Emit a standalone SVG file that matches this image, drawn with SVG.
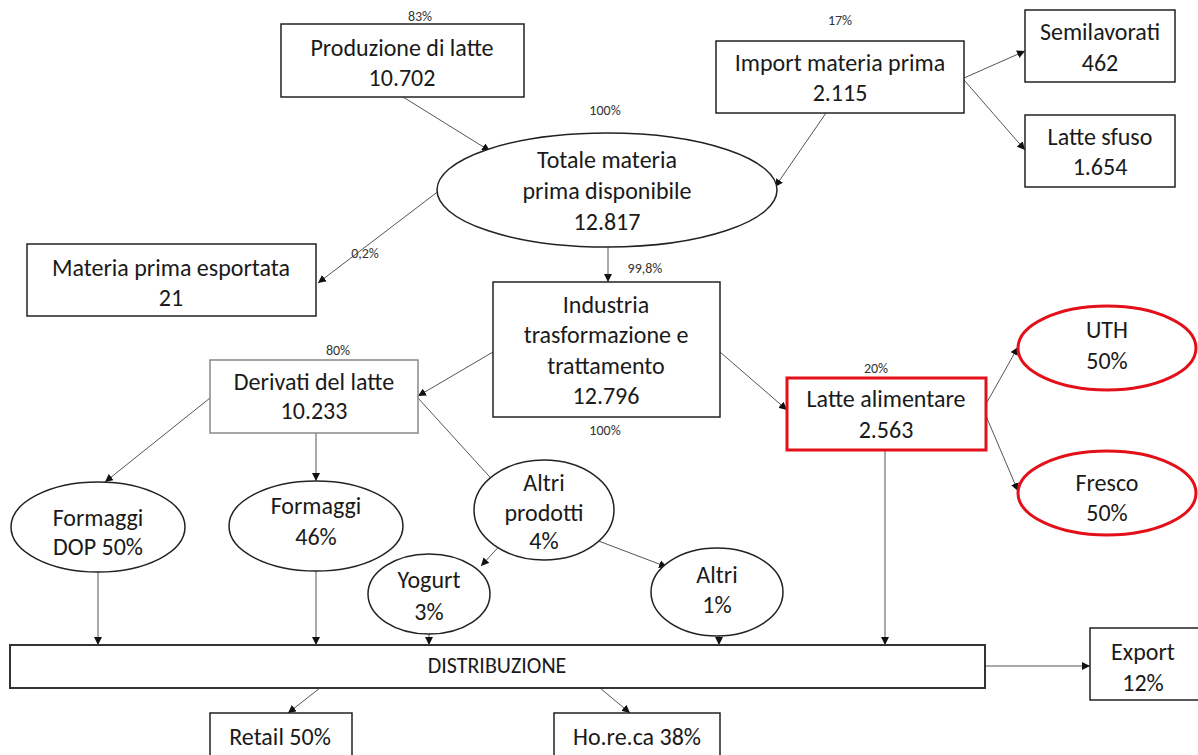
<svg xmlns="http://www.w3.org/2000/svg" width="1198" height="755" viewBox="0 0 1198 755">
<defs>
<marker id="ah" viewBox="0 0 10 10" refX="10" refY="5" markerWidth="8" markerHeight="8" markerUnits="userSpaceOnUse" orient="auto">
<path d="M0,0 L10,5 L0,10 z" fill="#111"/>
</marker>
<style>
text{font-family:Carlito,"Liberation Sans",Arial,sans-serif;fill:#1a1a1a;text-anchor:middle}
.t{font-size:24px}
.s{font-size:14px;fill:#333}
.box{fill:#fff;stroke:#222;stroke-width:1.5}
.gbox{fill:#fff;stroke:#888;stroke-width:1.5}
.red{fill:#fff;stroke:#e3101a;stroke-width:3}
.ell{fill:#fff;stroke:#222;stroke-width:1.5}
.c{fill:none;stroke:#555;stroke-width:1;marker-end:url(#ah)}
</style>
</defs>
<rect width="1198" height="755" fill="#fff"/>

<g id="connectors">
<line class="c" x1="403" y1="97" x2="490" y2="151"/>
<line class="c" x1="826" y1="113" x2="775" y2="187"/>
<line class="c" x1="964" y1="78" x2="1025" y2="51"/>
<line class="c" x1="964" y1="80" x2="1025" y2="150"/>
<line class="c" x1="440" y1="190" x2="318" y2="283"/>
<line class="c" x1="608" y1="247" x2="608" y2="282"/>
<line class="c" x1="493" y1="352" x2="418" y2="396"/>
<line class="c" x1="720" y1="352" x2="787" y2="410"/>
<line class="c" x1="986" y1="404" x2="1018" y2="347"/>
<line class="c" x1="986" y1="416" x2="1018" y2="491"/>
<line class="c" x1="210" y1="398" x2="105" y2="482"/>
<line class="c" x1="316" y1="433" x2="316" y2="481"/>
<line class="c" x1="418" y1="398" x2="498" y2="486"/>
<line class="c" x1="505" y1="540" x2="481" y2="566"/>
<line class="c" x1="596" y1="540" x2="667" y2="567"/>
<line class="c" x1="98" y1="571" x2="98" y2="645"/>
<line class="c" x1="316" y1="570" x2="316" y2="645"/>
<line class="c" x1="429" y1="634" x2="429" y2="645"/>
<line class="c" x1="719" y1="636" x2="719" y2="645"/>
<line class="c" x1="885" y1="450" x2="885" y2="645"/>
<line class="c" x1="985" y1="666" x2="1090" y2="666"/>
<line class="c" x1="320" y1="688" x2="288" y2="713"/>
<line class="c" x1="600" y1="688" x2="630" y2="713"/>
</g>

<g id="produzione">
<rect class="box" x="281" y="24" width="243" height="73"/>
<text class="t" x="402" y="56">Produzione di latte</text>
<text class="t" x="402" y="86">10.702</text>
<text class="s" x="420" y="21">83%</text>
</g>

<g id="import">
<rect class="box" x="716" y="41" width="248" height="72"/>
<text class="t" x="840" y="71">Import materia prima</text>
<text class="t" x="840" y="101">2.115</text>
<text class="s" x="840" y="25">17%</text>
</g>

<g id="semilavorati">
<rect class="box" x="1025" y="10" width="150" height="72"/>
<text class="t" x="1100" y="40">Semilavorati</text>
<text class="t" x="1100" y="71">462</text>
</g>

<g id="lattesfuso">
<rect class="box" x="1025" y="115" width="150" height="72"/>
<text class="t" x="1100" y="145">Latte sfuso</text>
<text class="t" x="1100" y="175">1.654</text>
</g>

<g id="totale">
<ellipse class="ell" cx="607" cy="190" rx="170" ry="57"/>
<text class="t" x="607" y="168">Totale materia</text>
<text class="t" x="607" y="199">prima disponibile</text>
<text class="t" x="607" y="230">12.817</text>
<text class="s" x="605" y="115">100%</text>
</g>

<g id="esportata">
<rect class="box" x="27" y="244" width="289" height="72"/>
<text class="t" x="171" y="276">Materia prima esportata</text>
<text class="t" x="171" y="306">21</text>
<text class="s" x="365" y="258">0,2%</text>
</g>

<g id="industria">
<rect class="box" x="493" y="282" width="227" height="135"/>
<text class="t" x="606" y="313">Industria</text>
<text class="t" x="606" y="343">trasformazione e</text>
<text class="t" x="606" y="374">trattamento</text>
<text class="t" x="606" y="404">12.796</text>
<text class="s" x="645" y="273">99,8%</text>
<text class="s" x="605" y="435">100%</text>
</g>

<g id="derivati">
<rect class="gbox" x="210" y="360" width="208" height="73"/>
<text class="t" x="314" y="390">Derivati del latte</text>
<text class="t" x="314" y="419">10.233</text>
<text class="s" x="338" y="355">80%</text>
</g>

<g id="lattealimentare">
<rect class="red" x="787" y="378" width="199" height="72"/>
<text class="t" x="886" y="407">Latte alimentare</text>
<text class="t" x="886" y="438">2.563</text>
<text class="s" x="876" y="373">20%</text>
</g>

<g id="uth">
<ellipse class="red" cx="1107" cy="348" rx="89" ry="42"/>
<text class="t" x="1107" y="338">UTH</text>
<text class="t" x="1107" y="369">50%</text>
</g>

<g id="fresco">
<ellipse class="red" cx="1107" cy="493" rx="89" ry="42"/>
<text class="t" x="1107" y="491">Fresco</text>
<text class="t" x="1107" y="521">50%</text>
</g>

<g id="formaggidop">
<ellipse class="ell" cx="98" cy="527" rx="87" ry="45"/>
<text class="t" x="98" y="526">Formaggi</text>
<text class="t" x="98" y="555">DOP 50%</text>
</g>

<g id="formaggi">
<ellipse class="ell" cx="316" cy="526" rx="87" ry="45"/>
<text class="t" x="316" y="514">Formaggi</text>
<text class="t" x="316" y="545">46%</text>
</g>

<g id="altriprodotti">
<ellipse class="ell" cx="544" cy="510" rx="70" ry="50"/>
<text class="t" x="544" y="491">Altri</text>
<text class="t" x="544" y="521">prodotti</text>
<text class="t" x="544" y="549">4%</text>
</g>

<g id="yogurt">
<ellipse class="ell" cx="429" cy="594" rx="61" ry="40"/>
<text class="t" x="429" y="588">Yogurt</text>
<text class="t" x="429" y="620">3%</text>
</g>

<g id="altri">
<ellipse class="ell" cx="717" cy="592" rx="66" ry="44"/>
<text class="t" x="717" y="583">Altri</text>
<text class="t" x="717" y="613">1%</text>
</g>

<g id="distribuzione">
<rect x="10" y="645" width="975" height="43" fill="#fff" stroke="#333" stroke-width="2"/>
<text x="497" y="673" style="font-size:22px">DISTRIBUZIONE</text>
</g>

<g id="export">
<rect class="box" x="1090" y="628" width="115" height="72"/>
<text class="t" x="1143" y="660">Export</text>
<text class="t" x="1143" y="691">12%</text>
</g>

<g id="retail">
<rect class="box" x="210" y="713" width="142" height="50"/>
<text class="t" x="280" y="745">Retail 50%</text>
</g>

<g id="horeca">
<rect class="box" x="554" y="713" width="166" height="50"/>
<text class="t" x="637" y="745">Ho.re.ca 38%</text>
</g>
</svg>
